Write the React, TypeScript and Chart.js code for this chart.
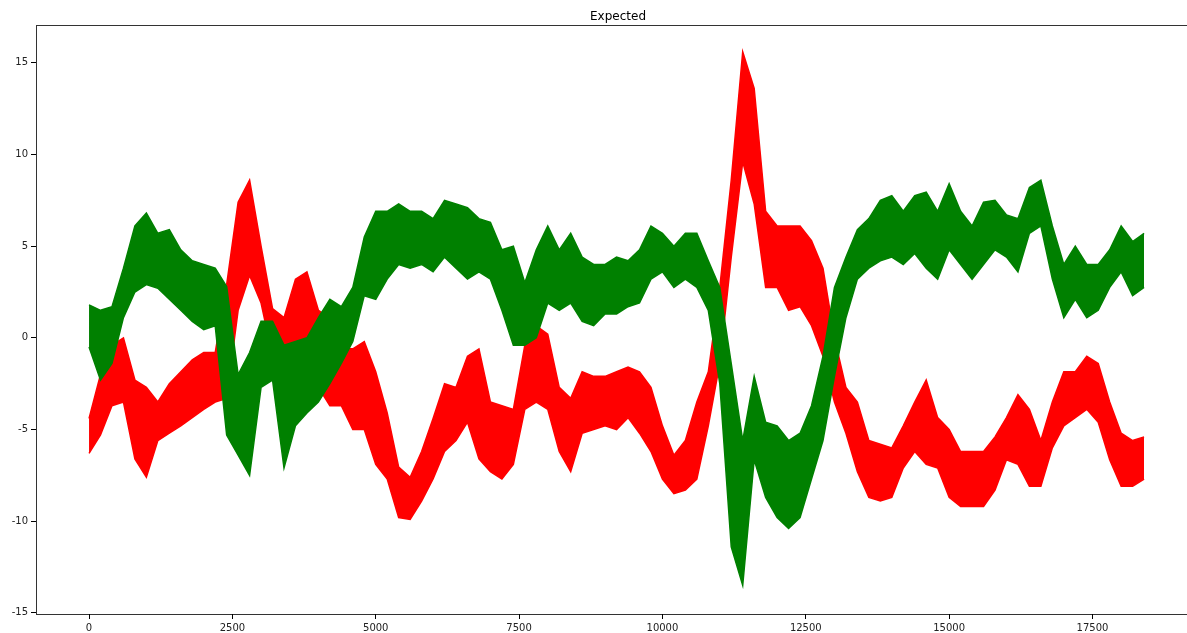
import React, { useEffect, useRef } from "react";
import { Chart, registerables } from "chart.js";

Chart.register(...registerables);

// Envelope readings (upper and lower edge of each noisy band) every SAMPLE_STEP x units, starting at 0.
const SAMPLE_STEP = 200;

const greenHigh = [
  1.8, 1.5, 1.7, 3.8, 6.1, 6.8, 5.7, 5.9, 4.8, 4.2,
  4.0, 3.8, 2.8, -2.0, -0.8, 0.9, 0.9, -0.4, -0.2, 0.0,
  1.1, 2.1, 1.7, 2.75, 5.5, 6.9, 6.9, 7.3, 6.9, 6.9,
  6.5, 7.5, 7.3, 7.1, 6.5, 6.3, 4.8, 5.0, 3.0, 4.8,
  6.1, 4.8, 5.7, 4.4, 4.0, 4.0, 4.4, 4.2, 4.8, 6.1,
  5.7, 5.0, 5.7, 5.7, 4.2, 2.75, -1.4, -5.6, -2.1, -4.6,
  -4.8, -5.6, -5.2, -3.7, -1.0, 2.75, 4.4, 5.9, 6.5, 7.5,
  7.75, 6.9, 7.75, 7.95, 6.9, 8.4, 6.9, 6.1, 7.4, 7.5,
  6.7, 6.5, 8.2, 8.6, 6.1, 4.0, 5.0, 4.0, 4.0, 4.8,
  6.1, 5.25, 5.7,
];

const greenLow = [
  -0.5, -2.3, -1.4, 1.1, 2.5, 2.9, 2.7, 2.1, 1.5, 0.9,
  0.45, 0.66, -5.3, -6.4, -7.5, -2.7, -2.3, -7.1, -4.8, -4.1,
  -3.5, -2.5, -1.4, -0.2, 2.3, 2.1, 3.2, 4.0, 3.8, 4.0,
  3.6, 4.4, 3.8, 3.2, 3.6, 3.2, 1.5, -0.4, -0.4, 0.0,
  1.9, 1.5, 1.9, 0.9, 0.66, 1.3, 1.3, 1.7, 1.9, 3.2,
  3.6, 2.75, 3.2, 2.75, 1.5, -2.5, -11.4, -13.5, -6.65, -8.7,
  -9.8, -10.4, -9.8, -7.7, -5.6, -2.1, 1.1, 3.2, 3.8, 4.2,
  4.4, 4.0, 4.6, 3.8, 3.2, 4.8, 4.0, 3.2, 4.0, 4.8,
  4.4, 3.6, 5.7, 6.1, 3.2, 1.1, 2.1, 1.1, 1.5, 2.75,
  3.6, 2.3, 2.75,
];

const redHigh = [
  -4.4, -2.0, -0.4, 0.0, -2.3, -2.7, -3.5, -2.5, -1.85, -1.2,
  -0.8, -0.8, 2.9, 7.4, 8.6, 5.0, 1.6, 1.1, 3.2, 3.6,
  1.5, 1.1, -0.6, -0.6, -0.2, -1.85, -4.1, -7.05, -7.6, -6.2,
  -4.4, -2.5, -2.7, -1.0, -0.6, -3.5, -3.7, -3.9, -0.4, 0.66,
  0.2, -2.7, -3.3, -1.85, -2.1, -2.1, -1.85, -1.6, -1.85, -2.7,
  -4.8, -6.4, -5.6, -3.5, -1.85, 2.75, 8.6, 15.6, 13.6, 6.9,
  6.1, 6.1, 6.1, 5.3, 3.8, 0.0, -2.7, -3.5, -5.6, -5.8,
  -6.0, -4.8, -3.5, -2.3, -4.35, -5.0, -6.2, -6.2, -6.2, -5.4,
  -4.35, -3.1, -3.9, -5.6, -3.5, -1.85, -1.85, -1.0, -1.4, -3.5,
  -5.2, -5.6, -5.4,
];

const redLow = [
  -6.3, -5.3, -3.7, -3.5, -6.6, -7.6, -5.6, -5.2, -4.8, -4.35,
  -3.9, -3.5, -3.3, 1.5, 3.4, 1.9, -1.0, -1.6, -1.2, -1.4,
  -2.7, -3.7, -3.7, -5.0, -5.0, -6.9, -7.7, -9.8, -9.9, -8.9,
  -7.7, -6.2, -5.6, -4.6, -6.6, -7.3, -7.7, -6.9, -3.9, -3.5,
  -3.9, -6.2, -7.3, -5.2, -5.0, -4.8, -5.0, -4.35, -5.2, -6.2,
  -7.7, -8.5, -8.3, -7.7, -4.8, -1.4, 4.4, 9.6, 7.3, 2.75,
  2.75, 1.5, 1.7, 0.66, -1.0, -3.5, -5.2, -7.3, -8.7, -8.9,
  -8.7, -7.1, -6.2, -6.9, -7.1, -8.7, -9.2, -9.2, -9.2, -8.3,
  -6.65, -6.9, -8.1, -8.1, -6.0, -4.8, -4.35, -3.9, -4.6, -6.65,
  -8.1, -8.1, -7.7,
];

const xTickValues = [0, 2500, 5000, 7500, 10000, 12500, 15000, 17500];
const yTickValues = [-15, -10, -5, 0, 5, 10, 15];
const chartTitle = "Expected";

function toPoints(values: number[]) {
  return values.map((v, i) => ({ x: i * SAMPLE_STEP, y: v }));
}

const FONT = "'DejaVu Sans', sans-serif";
const GREEN = "#008000";
const RED = "#ff0000";

function bandDatasets(label: string, color: string, high: number[], low: number[]) {
  return [
    {
      label: label + " high",
      data: toPoints(high),
      borderColor: color,
      backgroundColor: color,
      borderWidth: 1.5,
      pointRadius: 0,
      tension: 0,
      fill: "+1",
    },
    {
      label: label + " low",
      data: toPoints(low),
      borderColor: color,
      backgroundColor: color,
      borderWidth: 1.5,
      pointRadius: 0,
      tension: 0,
      fill: false,
    },
  ];
}

export default function App() {
  const ref = useRef<HTMLCanvasElement | null>(null);

  useEffect(() => {
    if (!ref.current) return;
    const framePlugin = {
      id: "frame",
      afterDatasetsDraw(chart: any) {
        const { ctx, chartArea } = chart;
        ctx.save();
        ctx.strokeStyle = "rgba(0,0,0,0.8)";
        ctx.lineWidth = 1;
        ctx.strokeRect(
          Math.round(chartArea.left) + 0.5,
          Math.round(chartArea.top) + 0.5,
          Math.round(chartArea.right - chartArea.left),
          Math.round(chartArea.bottom - chartArea.top)
        );
        ctx.restore();
      },
      afterDraw(chart: any) {
        const { ctx, chartArea } = chart;
        ctx.save();
        ctx.fillStyle = "#000";
        ctx.font = `12px ${FONT}`;
        ctx.textAlign = "center";
        ctx.textBaseline = "alphabetic";
        ctx.fillText(chartTitle, (chartArea.left + chartArea.right) / 2, 20);
        ctx.restore();
      },
    };

    const chart = new Chart(ref.current, {
      type: "line",
      data: {
        datasets: [
          ...bandDatasets("green", GREEN, greenHigh, greenLow),
          ...bandDatasets("red", RED, redHigh, redLow),
        ] as any,
      },
      options: {
        responsive: false,
        animation: false,
        parsing: false as any,
        normalized: true,
        layout: { padding: { left: 0, right: 15, top: 25, bottom: 0 } },
        plugins: {
          legend: { display: false },
          tooltip: { enabled: false },
          title: { display: false },
          filler: { propagate: false },
        },
        scales: {
          x: {
            type: "linear",
            min: -925,
            max: 19375,
            afterBuildTicks: (scale: any) => {
              scale.ticks = xTickValues.map((v) => ({ value: v }));
            },
            afterFit: (scale: any) => {
              scale.height = 19;
            },
            border: { display: false },
            grid: {
              display: true,
              drawOnChartArea: false,
              drawTicks: true,
              tickLength: 5,
              tickColor: "#000",
              color: "#000",
            },
            ticks: {
              autoSkip: false,
              maxRotation: 0,
              minRotation: 0,
              padding: 3,
              color: "#222",
              font: { family: FONT, size: 10 },
              callback: (v: any) => String(v),
            },
          },
          y: {
            type: "linear",
            min: -15.06,
            max: 17.06,
            afterBuildTicks: (scale: any) => {
              scale.ticks = yTickValues.map((v) => ({ value: v }));
            },
            afterFit: (scale: any) => {
              scale.width = 36;
            },
            border: { display: false },
            grid: {
              display: true,
              drawOnChartArea: false,
              drawTicks: true,
              tickLength: 5,
              tickColor: "#000",
              color: "#000",
            },
            ticks: {
              padding: 3,
              color: "#222",
              font: { family: FONT, size: 10 },
              callback: (v: any) => String(v),
            },
          },
        },
      },
      plugins: [framePlugin],
    });
    return () => chart.destroy();
  }, []);

  return (
    <div
      style={{
        position: "fixed",
        left: 0,
        top: 0,
        width: "100vw",
        height: "100vh",
        overflow: "hidden",
        background: "#fff",
      }}
    >
      <canvas ref={ref} width={1215} height={633} style={{ display: "block" }} />
    </div>
  );
}
